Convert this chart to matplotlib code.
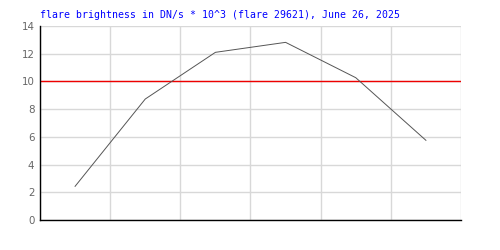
import matplotlib
matplotlib.use("Agg")
import matplotlib.pyplot as plt

# flare brightness samples (DN/s * 10^3)
sample_idx = [0.5, 1.5, 2.5, 3.5, 4.5, 5.5]
brightness = [2.43, 8.73, 12.1, 12.82, 10.27, 5.75]
threshold = 10
y_ticks = [0, 2, 4, 6, 8, 10, 12, 14]
x_grid = [0, 1, 2, 3, 4, 5, 6]
title = "flare brightness in DN/s * 10^3 (flare 29621), June 26, 2025"

fig = plt.figure(figsize=(5, 2.5), dpi=100)
ax = fig.add_axes([0.08, 0.12, 0.842, 0.776])

ax.set_xlim(0, 6)
ax.set_ylim(0, 14)
ax.set_xticks(x_grid)
ax.set_xticklabels([])
ax.set_yticks(y_ticks)
ax.tick_params(axis="x", length=0)
ax.tick_params(axis="y", length=0, pad=4, labelsize=7.4, labelcolor="#666666")
ax.grid(True, color="#d8d8d8", linewidth=1)
ax.set_axisbelow(True)

for side in ["top", "right"]:
    ax.spines[side].set_visible(False)
for side in ["left", "bottom"]:
    ax.spines[side].set_color("black")
    ax.spines[side].set_linewidth(1)

ax.axhline(threshold, color="#ee0000", linewidth=1.0)
ax.plot(sample_idx, brightness, color="#555555", linewidth=0.7)

fig.text(0.08, 0.93, title, color="#0000ff", fontsize=7.15,
         family="DejaVu Sans Mono", va="baseline", ha="left")

fig.savefig("out.png", dpi=100)
